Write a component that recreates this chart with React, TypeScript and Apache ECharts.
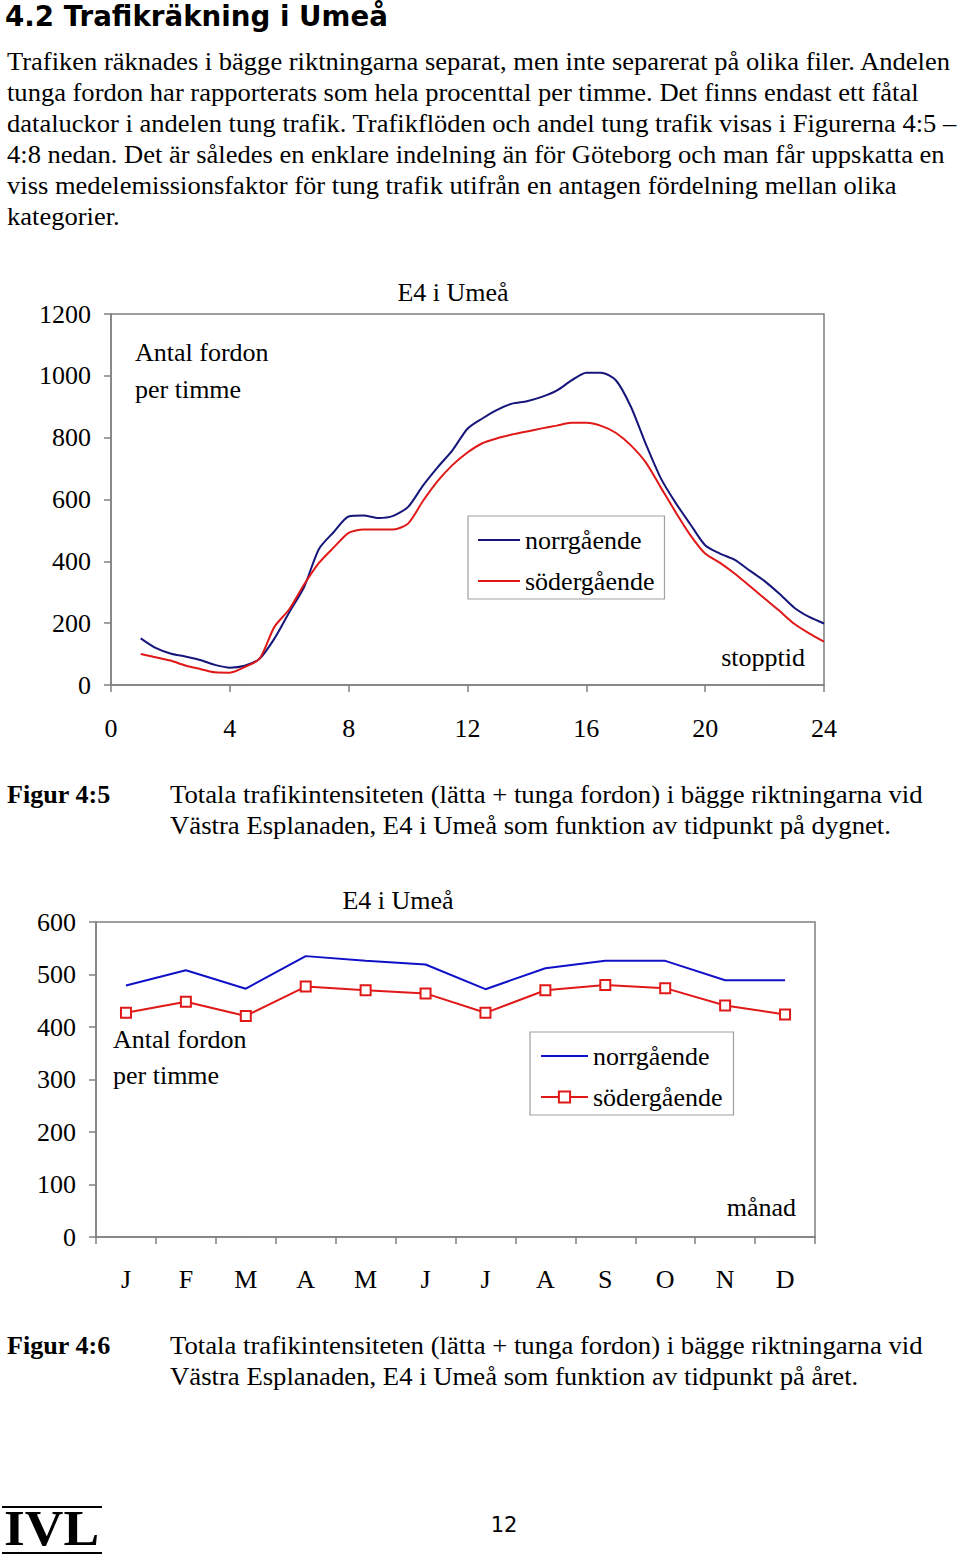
import React, { useEffect, useRef } from 'react';
import * as echarts from 'echarts';

// ---- Figure 4:5 data (hour of day, vehicles per hour) ----
const hours = [1, 1.5, 2, 2.5, 3, 3.5, 4, 4.5, 5, 5.5, 6, 6.5, 7, 7.5, 8, 8.5, 9, 9.5, 10, 10.5, 11, 11.5, 12, 12.5, 13, 13.5, 14, 14.5, 15, 15.5, 16, 16.5, 17, 17.5, 18, 18.5, 19, 19.5, 20, 20.5, 21, 21.5, 22, 22.5, 23, 23.5, 24];
const northDay = [151, 120, 102, 92, 81, 65, 56, 62, 85, 150, 235, 317, 440, 495, 545, 548, 540, 547, 576, 645, 705, 760, 829, 862, 890, 910, 918, 932, 952, 985, 1010, 1010, 985, 900, 780, 670, 590, 520, 452, 425, 405, 370, 336, 295, 250, 220, 199];
const southDay = [100, 90, 79, 63, 52, 41, 40, 58, 85, 188, 245, 325, 395, 445, 492, 503, 503, 503, 522, 595, 660, 712, 752, 782, 798, 810, 820, 830, 839, 848, 848, 838, 815, 775, 720, 640, 560, 485, 425, 395, 360, 320, 280, 240, 198, 167, 140];

// ---- Figure 4:6 data (month, vehicles per hour) ----
const months = ['J', 'F', 'M', 'A', 'M', 'J', 'J', 'A', 'S', 'O', 'N', 'D'];
const northMonth = [479, 508, 473, 535, 526, 519, 472, 512, 526, 526, 489, 489];
const southMonth = [427, 448, 421, 477, 470, 464, 427, 470, 480, 474, 441, 424];

const seriesNames = ['norrgående', 'södergående'];

const bodyLines = [
  'Trafiken räknades i bägge riktningarna separat, men inte separerat på olika filer. Andelen',
  'tunga fordon har rapporterats som hela procenttal per timme. Det finns endast ett fåtal',
  'dataluckor i andelen tung trafik. Trafikflöden och andel tung trafik visas i Figurerna 4:5 –',
  '4:8 nedan. Det är således en enklare indelning än för Göteborg och man får uppskatta en',
  'viss medelemissionsfaktor för tung trafik utifrån en antagen fördelning mellan olika',
  'kategorier.',
];
const caption1 = [
  'Totala trafikintensiteten (lätta + tunga fordon) i bägge riktningarna vid',
  'Västra Esplanaden, E4 i Umeå som funktion av tidpunkt på dygnet.',
];
const caption2 = [
  'Totala trafikintensiteten (lätta + tunga fordon) i bägge riktningarna vid',
  'Västra Esplanaden, E4 i Umeå som funktion av tidpunkt på året.',
];

const SERIF = '"Liberation Serif", "Times New Roman", serif';
const SANS = '"DejaVu Sans", Verdana, sans-serif';
const NAVY = '#15157a';
const BLUE = '#1010c8';
const RED = '#e01818';
const GRAY = '#808080';
const LINE_ICON_1 = 'path://M0 0H42V2H0Z';
const LINE_ICON_2 = 'path://M0 0H47V2H0Z';

function txt(text: string, x: number, y: number, size: number, opts: any = {}) {
  return {
    type: 'text',
    x,
    y,
    scaleX: opts.scaleX || 1,
    silent: true,
    style: {
      text,
      fill: '#000',
      fontSize: size,
      fontFamily: opts.family || SERIF,
      fontWeight: opts.weight || 'normal',
      align: opts.align || 'left',
      verticalAlign: 'middle',
      lineHeight: opts.lineHeight,
    },
  };
}

function axisCommon() {
  return {
    axisLine: { show: true, lineStyle: { color: GRAY, width: 1.5 } },
    axisTick: { show: true, length: 7, lineStyle: { color: GRAY, width: 1.5 } },
    splitLine: { show: false },
  };
}

const plainLabel = (v: number) => String(v);

export default function App() {
  const ref1 = useRef<HTMLDivElement>(null);
  const ref2 = useRef<HTMLDivElement>(null);

  useEffect(() => {
    const c1 = echarts.init(ref1.current!, undefined, { renderer: 'svg' });
    const c2 = echarts.init(ref2.current!, undefined, { renderer: 'svg' });
    const BODY = 25;
    const SX_BODY = 1.061;
    const SX_CAP = 1.069;

    const pageGraphics: any[] = [
      txt('4.2 Trafikräkning i Umeå', 5, 16, 27.7, { family: SANS, weight: 'bold' }),
      ...bodyLines.map((l, i) => txt(l, 7, 62 + i * 31, BODY, { scaleX: SX_BODY })),
      txt('E4 i Umeå', 453, 292, 26, { align: 'center' }),
      txt('Antal fordon', 135, 352, 26),
      txt('per timme', 135, 389, 26),
      txt('stopptid', 805, 657, 26, { align: 'right' }),
      txt('Figur 4:5', 7, 795, BODY, { weight: 'bold', scaleX: 1.045 }),
      ...caption1.map((l, i) => txt(l, 170, 795 + i * 31, BODY, { scaleX: SX_CAP })),
      txt('Figur 4:6', 7, 1346, BODY, { weight: 'bold', scaleX: 1.045 }),
      ...caption2.map((l, i) => txt(l, 170, 1346 + i * 31, BODY, { scaleX: SX_CAP })),
      txt('IVL', 4, 1528, 50, { weight: 'bold', lineHeight: 42, scaleX: 1.07 }),
      { type: 'line', silent: true, shape: { x1: 2, y1: 1507, x2: 102, y2: 1507 }, style: { stroke: '#000', lineWidth: 2 } },
      { type: 'line', silent: true, shape: { x1: 2, y1: 1553, x2: 102, y2: 1553 }, style: { stroke: '#000', lineWidth: 2 } },
      txt('12', 504, 1525, 21, { family: SANS, align: 'center' }),
    ];

    c1.setOption({
      animation: false,
      backgroundColor: '#fff',
      graphic: pageGraphics,
      grid: {
        left: 111, top: 314, width: 713, height: 371,
        show: true, borderColor: GRAY, borderWidth: 1.5, backgroundColor: 'transparent',
      },
      legend: {
        orient: 'vertical',
        left: 468, top: 516,
        data: seriesNames,
        icon: LINE_ICON_1,
        symbolKeepAspect: true,
        itemWidth: 42, itemHeight: 14, itemGap: 15,
        padding: [11, 10, 5, 10],
        borderColor: '#a0a0a0', borderWidth: 1.2, borderRadius: 0,
        textStyle: { fontFamily: SERIF, fontSize: 26, color: '#000' },
        selectedMode: false,
      },
      xAxis: {
        type: 'value', min: 0, max: 24, interval: 4,
        ...axisCommon(),
        axisLabel: { margin: 30, fontFamily: SERIF, fontSize: 26, color: '#000', formatter: plainLabel },
      },
      yAxis: {
        type: 'value', min: 0, max: 1200, interval: 200,
        ...axisCommon(),
        axisLabel: { margin: 20, fontFamily: SERIF, fontSize: 26, color: '#000', formatter: plainLabel },
      },
      series: [
        {
          name: seriesNames[0], type: 'line', symbol: 'none', smooth: 0.25,
          lineStyle: { color: NAVY, width: 2 }, itemStyle: { color: NAVY },
          data: hours.map((h, i) => [h, northDay[i]]),
        },
        {
          name: seriesNames[1], type: 'line', symbol: 'none', smooth: 0.25,
          lineStyle: { color: RED, width: 2 }, itemStyle: { color: RED },
          data: hours.map((h, i) => [h, southDay[i]]),
        },
      ],
    });

    c2.setOption({
      animation: false,
      graphic: [
        txt('E4 i Umeå', 398, 900, 26, { align: 'center' }),
        txt('Antal fordon', 113, 1039, 26),
        txt('per timme', 113, 1075, 26),
        txt('månad', 796, 1207, 26, { align: 'right' }),
      ],
      grid: {
        left: 96, top: 922, width: 719, height: 315,
        show: true, borderColor: GRAY, borderWidth: 1.5, backgroundColor: 'transparent',
      },
      legend: {
        orient: 'vertical',
        left: 530, top: 1032,
        data: [{ name: seriesNames[0], icon: LINE_ICON_2 }, { name: seriesNames[1] }],
        symbolKeepAspect: true,
        itemWidth: 47, itemHeight: 14, itemGap: 15,
        padding: [11, 11, 5, 10],
        borderColor: '#a0a0a0', borderWidth: 1.2, borderRadius: 0,
        textStyle: { fontFamily: SERIF, fontSize: 26, color: '#000' },
        selectedMode: false,
      },
      xAxis: {
        type: 'category', data: months, boundaryGap: true,
        ...axisCommon(),
        axisTick: { show: true, length: 7, alignWithLabel: false, lineStyle: { color: GRAY, width: 1.5 } },
        axisLabel: { margin: 29, fontFamily: SERIF, fontSize: 26, color: '#000', interval: 0 },
      },
      yAxis: {
        type: 'value', min: 0, max: 600, interval: 100,
        ...axisCommon(),
        axisLabel: { margin: 20, fontFamily: SERIF, fontSize: 26, color: '#000', formatter: plainLabel },
      },
      series: [
        {
          name: seriesNames[0], type: 'line', symbol: 'none',
          lineStyle: { color: BLUE, width: 2 }, itemStyle: { color: BLUE },
          data: northMonth,
        },
        {
          name: seriesNames[1], type: 'line', symbol: 'emptyRect', symbolSize: 10, showSymbol: true,
          lineStyle: { color: RED, width: 2 }, itemStyle: { color: RED, borderColor: RED, borderWidth: 1.5 },
          data: southMonth,
        },
      ],
    });

    return () => {
      c1.dispose();
      c2.dispose();
    };
  }, []);

  const full: React.CSSProperties = { position: 'absolute', left: 0, top: 0, width: 960, height: 1557 };
  return (
    <div style={full}>
      <div ref={ref1} style={full} />
      <div ref={ref2} style={full} />
    </div>
  );
}
